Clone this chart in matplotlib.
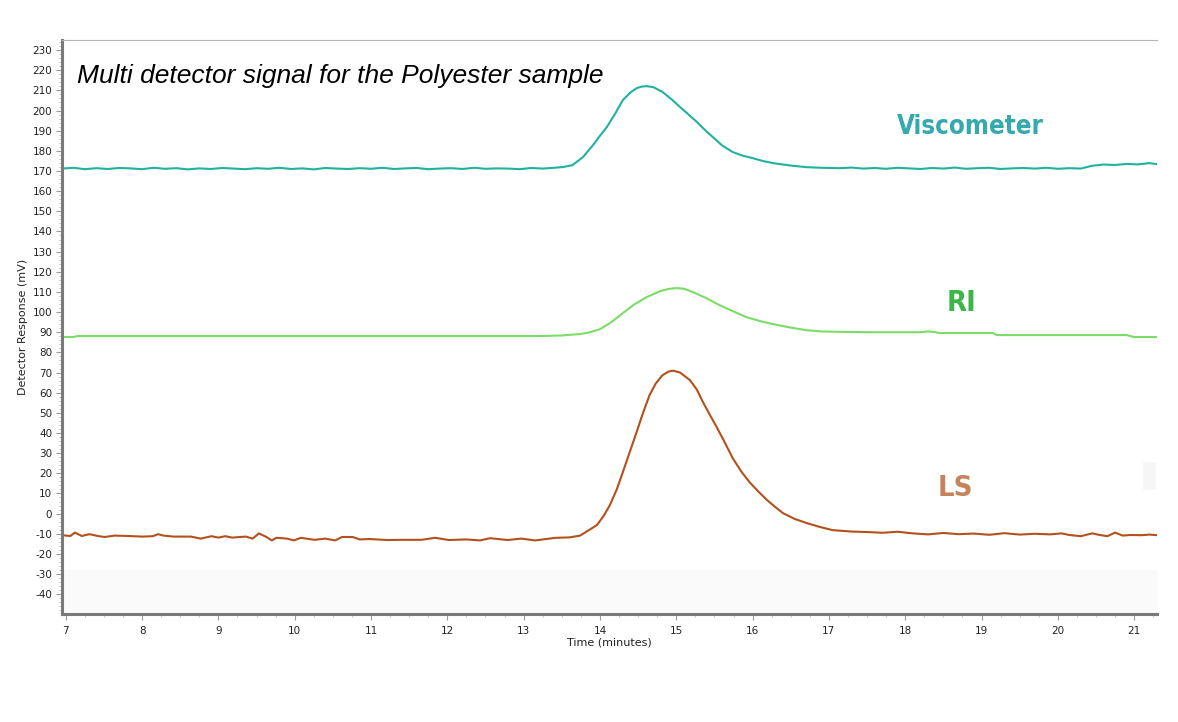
import matplotlib
matplotlib.use("Agg")
import matplotlib.pyplot as plt
from matplotlib.ticker import MultipleLocator
from matplotlib.patches import Rectangle

plt.rcParams["axes.unicode_minus"] = False

# retention time (min) / detector response (mV) for each detector trace
visc_time = [6.95, 7.1, 7.25, 7.4, 7.55, 7.7, 7.85, 8.0, 8.15, 8.3, 8.45, 8.6, 8.75, 8.9,
             9.05, 9.2, 9.35, 9.5, 9.65, 9.8, 9.95, 10.1, 10.25, 10.4, 10.55, 10.7, 10.85,
             11.0, 11.15, 11.3, 11.45, 11.6, 11.75, 11.9, 12.05, 12.2, 12.35, 12.5, 12.65,
             12.8, 12.95, 13.1, 13.25, 13.4, 13.52,
             13.64, 13.78, 13.91, 14.0, 14.09, 14.2, 14.3, 14.4, 14.48, 14.55, 14.61, 14.7,
             14.82, 14.95, 15.05, 15.15, 15.27, 15.38, 15.48, 15.6, 15.74, 15.87, 16.0,
             16.13, 16.27, 16.5, 16.71, 16.9, 17.14,
             17.3, 17.45, 17.6, 17.75, 17.9, 18.05, 18.2, 18.35, 18.5, 18.65, 18.8, 18.95,
             19.1, 19.25, 19.4, 19.55, 19.7, 19.85, 20.0, 20.15, 20.3, 20.45, 20.6, 20.75,
             20.9, 21.05, 21.2, 21.3]
visc_mv = [171.2, 171.6, 170.9, 171.4, 171.0, 171.5, 171.3, 170.9, 171.6, 171.1, 171.4,
           170.8, 171.3, 171.0, 171.5, 171.2, 170.9, 171.4, 171.1, 171.6, 171.0, 171.3,
           170.8, 171.5, 171.2, 171.0, 171.4, 171.1, 171.6, 171.0, 171.3, 171.5, 170.9,
           171.2, 171.4, 171.0, 171.6, 171.1, 171.3, 171.2, 170.9, 171.5, 171.2, 171.6,
           172.0,
           172.9, 177.0, 182.9, 187.5, 191.8, 198.5, 205.2, 209.0, 211.1, 211.9, 212.1,
           211.6, 209.2, 205.2, 201.7, 198.4, 194.3, 190.2, 186.8, 182.7, 179.4, 177.6,
           176.4, 175.0, 173.9, 172.7, 171.9, 171.6, 171.4,
           171.7, 171.2, 171.5, 171.1, 171.6, 171.3, 171.0, 171.5, 171.2, 171.7, 171.1,
           171.4, 171.6, 171.0, 171.3, 171.5, 171.2, 171.6, 171.1, 171.4, 171.2, 172.6,
           173.2, 173.0, 173.5, 173.3, 173.9, 173.4]

ri_time = [6.95, 7.1, 7.15, 13.21, 13.5, 13.74, 13.87, 14.0, 14.15, 14.3, 14.45, 14.61,
           14.79, 14.9, 15.0, 15.1, 15.22, 15.4, 15.57, 15.75, 15.92, 16.1, 16.27, 16.5,
           16.71, 16.9, 17.14, 17.5, 18.2, 18.3, 18.4, 18.45, 19.15, 19.2, 20.9, 21.0, 21.3]
ri_mv = [87.6, 87.6, 88.1, 88.1, 88.4, 89.1, 90.0, 91.5, 95.0, 99.5, 103.8, 107.4,
         110.4, 111.5, 111.9, 111.6, 109.9, 106.8, 103.4, 100.3, 97.5, 95.5, 94.0, 92.3,
         91.0, 90.4, 90.2, 90.0, 90.0, 90.4, 90.0, 89.6, 89.6, 88.6, 88.6, 87.6, 87.6]

ls_time = [6.92, 7.06, 7.12, 7.21, 7.31, 7.42, 7.51, 7.64, 7.82, 8.0, 8.14, 8.21, 8.28,
           8.41, 8.64, 8.77, 8.91, 9.0, 9.09, 9.18, 9.36, 9.45, 9.53, 9.63, 9.7, 9.76,
           9.9, 9.99, 10.08, 10.26, 10.4, 10.53, 10.62, 10.76, 10.85, 10.98, 11.21, 11.43,
           11.66, 11.84, 12.02, 12.25, 12.43, 12.56, 12.79, 12.97, 13.15, 13.42, 13.6,
           13.74, 13.96, 14.05, 14.13, 14.22, 14.3, 14.39, 14.48, 14.56, 14.65, 14.73,
           14.82, 14.9, 14.96, 15.05, 15.18, 15.27, 15.35, 15.44, 15.53, 15.64, 15.74,
           15.85, 15.96, 16.08, 16.19, 16.3, 16.4, 16.55, 16.71, 16.88, 17.05, 17.3,
           17.54, 17.7, 17.9, 18.1, 18.3, 18.5, 18.7, 18.9, 19.1, 19.3, 19.5, 19.7, 19.9,
           20.05, 20.15, 20.3, 20.45, 20.55, 20.65, 20.75, 20.85, 20.95, 21.1, 21.2, 21.3]
ls_mv = [-10.6, -11.1, -9.4, -11.1, -10.2, -11.1, -11.6, -10.9, -11.1, -11.4, -11.2,
         -10.2, -10.9, -11.4, -11.4, -12.4, -11.2, -11.9, -11.2, -11.9, -11.4, -12.4,
         -9.8, -11.6, -13.3, -12.0, -12.4, -13.3, -12.0, -13.0, -12.4, -13.3, -11.6,
         -11.6, -12.8, -12.6, -13.1, -13.0, -13.0, -12.0, -13.1, -12.8, -13.3, -12.2,
         -13.1, -12.4, -13.3, -12.0, -11.8, -10.9, -5.7, -1.0, 4.2, 12.0, 20.6, 30.5,
         40.4, 49.5, 58.8, 64.5, 68.7, 70.5, 70.9, 70.0, 66.2, 61.5, 55.3, 49.0, 42.9,
         35.0, 27.5, 21.0, 15.6, 10.8, 6.7, 3.2, 0.2, -2.6, -4.7, -6.6, -8.2, -8.9, -9.2,
         -9.5, -9.0, -9.8, -10.3, -9.6, -10.2, -9.9, -10.5, -9.7, -10.4, -10.0, -10.3,
         -9.8, -10.6, -11.2, -9.8, -10.6, -11.2, -9.4, -10.9, -10.6, -10.7, -10.4, -10.7]

title = "Multi detector signal for the Polyester sample"
labels = ["Viscometer", "RI", "LS"]
label_pos = [(18.86, 188.3), (18.74, 100.5), (18.66, 8.7)]
label_sizes = [18.5, 21, 21]
line_colors = ["#1fb39e", "#7bdc68", "#b4501c"]
label_colors = ["#34a9ae", "#3cb54a", "#c6845b"]

fig = plt.figure(figsize=(11.78, 7.22), dpi=100)
ax = fig.add_axes([0.0526, 0.1496, 0.9296, 0.795])

# faint shaded areas of the instrument plot window
ax.axhspan(-50, -28, color="#fafafa", zorder=0, lw=0)
ax.add_patch(Rectangle((21.12, 11.6), 0.17, 13.9, color="#f6f6f6", lw=0, zorder=0))

for t, v, c in zip([visc_time, ri_time, ls_time], [visc_mv, ri_mv, ls_mv], line_colors):
    ax.plot(t, v, color=c, lw=1.5, solid_joinstyle="round")

ax.set_xlim(6.95, 21.3)
ax.set_ylim(-49.8, 235)
ax.xaxis.set_major_locator(MultipleLocator(1))
ax.xaxis.set_minor_locator(MultipleLocator(0.25))
ax.yaxis.set_major_locator(MultipleLocator(10))
ax.yaxis.set_minor_locator(MultipleLocator(2))
ax.tick_params(which="major", length=4, width=0.8, color="#999999",
               labelsize=7.5, labelcolor="#222222", pad=3)
ax.tick_params(axis="x", which="major", pad=5)
ax.tick_params(which="minor", length=2, width=0.6, color="#bbbbbb")

for side in ("left", "bottom"):
    ax.spines[side].set_color("#7a7a7a")
    ax.spines[side].set_linewidth(2.2)
ax.spines["top"].set_color("#b5b5b5")
ax.spines["top"].set_linewidth(0.8)
ax.spines["right"].set_visible(False)

ax.set_xlabel("Time (minutes)", fontsize=8, color="#222222", labelpad=1)
ax.set_ylabel("Detector Response (mV)", fontsize=8, color="#222222", labelpad=3)

ax.text(7.15, 213.5, title, fontsize=19, style="italic",
        family=["Liberation Sans", "DejaVu Sans"], va="baseline", ha="left")

for name, (x, y), size, c in zip(labels, label_pos, label_sizes, label_colors):
    ax.text(x, y, name, fontsize=size, fontweight="bold", fontstretch="condensed", color=c,
            family=["DejaVu Sans"], ha="center", va="baseline")

fig.savefig("out.png", dpi=100, facecolor="white")
